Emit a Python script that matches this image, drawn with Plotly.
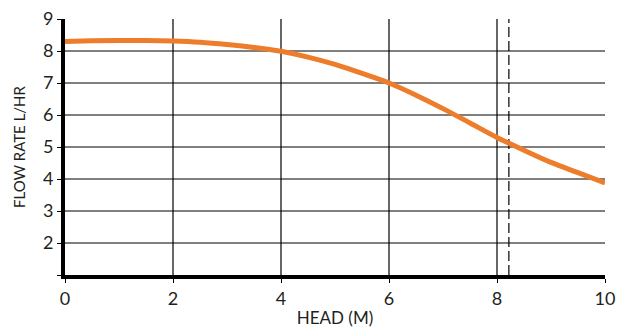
import plotly.graph_objects as go

head = [0, 0.5, 1, 1.5, 2, 2.5, 3, 3.5, 4, 4.5, 5, 5.5, 6, 6.5, 7, 7.5, 8, 8.5, 9, 9.5, 10]
flow = [8.3, 8.32, 8.33, 8.33, 8.31, 8.27, 8.2, 8.11, 7.99, 7.81, 7.58, 7.3, 7.0, 6.62, 6.2, 5.75, 5.3, 4.9, 4.52, 4.2, 3.88]
dash_x = 8.22
x_ticks = [0, 2, 4, 6, 8, 10]
y_ticks = [1, 2, 3, 4, 5, 6, 7, 8, 9]
y_labels = ["", "2", "3", "4", "5", "6", "7", "8", "9"]
h_grid = [2, 3, 4, 5, 6, 7, 8]
v_grid = [2, 4, 6, 8]

fig = go.Figure()
fig.add_trace(go.Scatter(x=head, y=flow, mode="lines", line=dict(color="#ED7D2B", width=5, shape="spline"),
                         hoverinfo="skip", showlegend=False))

shapes = []
for g in h_grid:
    shapes.append(dict(type="line", xref="paper", yref="y", x0=0, x1=1, y0=g, y1=g,
                       line=dict(color="black", width=1.2), layer="below"))
for g in v_grid:
    shapes.append(dict(type="line", xref="x", yref="paper", x0=g, x1=g, y0=0, y1=1,
                       line=dict(color="black", width=1.2), layer="below"))
shapes.append(dict(type="line", xref="x", yref="paper", x0=dash_x, x1=dash_x, y0=0, y1=1,
                   line=dict(color="black", width=1.2, dash="10px,4px"), layer="below"))

fig.update_layout(
    width=621, height=334,
    margin=dict(l=65, r=16, t=19, b=59),
    paper_bgcolor="white", plot_bgcolor="white",
    font=dict(family="Lato, Open Sans, sans-serif", color="#231F20", size=17),
    shapes=shapes,
    xaxis=dict(range=[0, 10], tickvals=x_ticks, showgrid=False, zeroline=False, automargin=False,
               showline=True, linecolor="black", linewidth=4, ticks="outside", ticklen=4,
               tickcolor="black", tickwidth=1, tickfont=dict(size=18),
               title=dict(text="HEAD (M)", font=dict(size=17), standoff=6)),
    yaxis=dict(range=[1, 9], tickvals=y_ticks, ticktext=y_labels, showgrid=False, zeroline=False,
               automargin=False,
               showline=True, linecolor="black", linewidth=4, ticks="outside", ticklen=4,
               tickcolor="black", tickwidth=1, tickfont=dict(size=18),
               title=dict(text="FLOW RATE L/HR", font=dict(size=15), standoff=15)),
)

fig.write_html("out.html")
